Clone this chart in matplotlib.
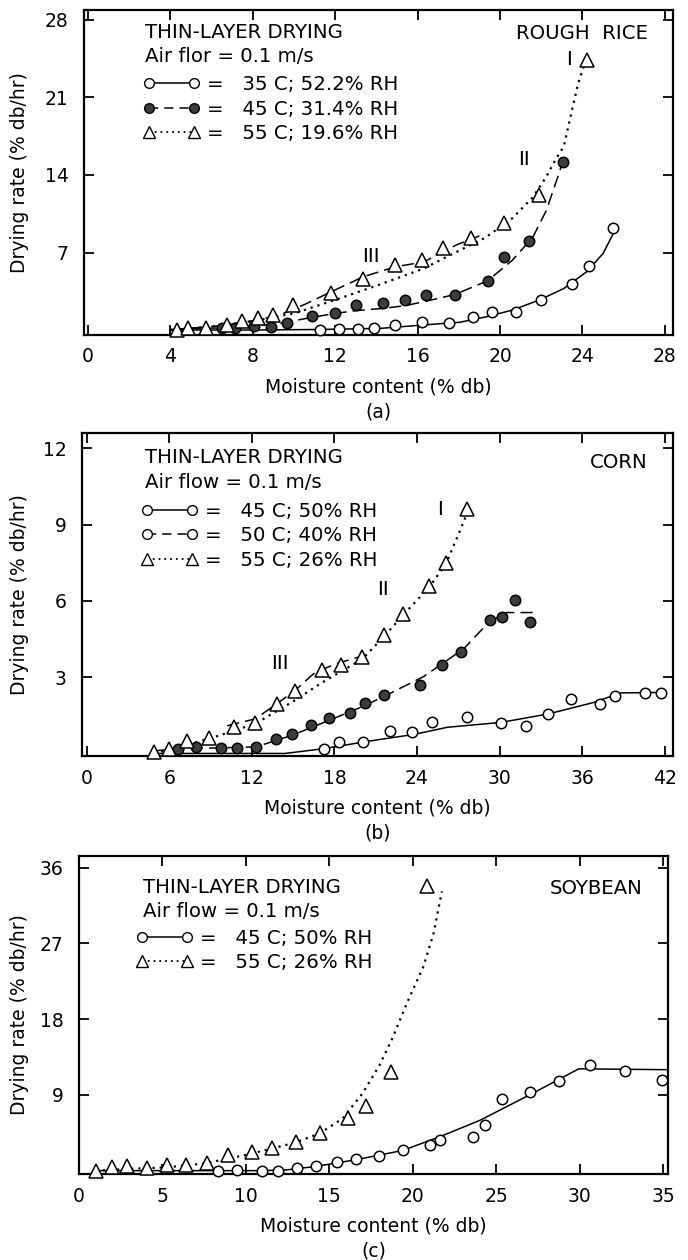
import matplotlib.pyplot as plt
from matplotlib.lines import Line2D

# ---- (a) rough rice: measured points ----
a_x35 = [11.25, 12.2, 13.1, 13.9, 14.9, 16.2, 17.5, 18.7, 19.6, 20.8, 22.0, 23.5, 24.3, 25.5]
a_y35 = [0.0, 0.05, 0.1, 0.15, 0.45, 0.7, 0.65, 1.15, 1.6, 1.65, 2.7, 4.2, 5.8, 9.2]
a_x45 = [6.5, 7.15, 8.05, 8.9, 9.65, 10.85, 12.0, 13.0, 14.3, 15.4, 16.4, 17.8, 19.4, 20.2, 21.4, 23.05]
a_y45 = [0.15, 0.15, 0.35, 0.25, 0.65, 1.25, 1.55, 2.25, 2.4, 2.75, 3.15, 3.2, 4.45, 6.6, 8.0, 15.2]
a_x55 = [4.3, 4.85, 5.7, 6.75, 7.45, 8.25, 9.0, 9.95, 11.8, 13.35, 14.9, 16.2, 17.25, 18.6, 20.2, 21.9, 24.2]
a_y55 = [0.0, 0.15, 0.15, 0.45, 0.85, 1.05, 1.35, 2.25, 3.3, 4.65, 5.85, 6.3, 7.45, 8.35, 9.65, 12.2, 24.4]
# fitted curves
a_cx35 = [4.0, 8.0, 11.3, 14.2, 16.6, 18.05, 19.35, 20.6, 21.9, 23.1, 24.2, 25.0, 25.5]
a_cy35 = [0.0, 0.0, 0.05, 0.15, 0.5, 0.7, 1.2, 1.8, 2.7, 3.75, 5.25, 6.9, 8.7]
a_cx45 = [4.0, 6.5, 8.0, 9.3, 10.9, 12.0, 13.0, 14.3, 15.4, 16.4, 17.8, 19.4, 20.6, 21.6, 22.25, 22.7, 23.05]
a_cy45 = [0.05, 0.2, 0.35, 0.6, 1.15, 1.5, 1.75, 1.95, 2.2, 2.6, 3.2, 4.45, 6.3, 8.4, 10.8, 13.25, 15.2]
a_cx55 = [4.0, 6.0, 8.0, 10.0, 12.2, 14.0, 16.3, 17.4, 19.3, 20.6, 21.6, 22.25, 22.7, 23.1, 23.5, 23.8, 24.1]
a_cy55 = [0.0, 0.3, 0.8, 1.5, 2.85, 4.0, 5.55, 6.6, 8.35, 10.1, 12.0, 13.85, 15.4, 16.6, 19.9, 22.3, 24.0]
a_cx3 = [4.2, 6.5, 8.2, 9.3, 10.5, 11.8, 13.35, 14.9, 16.3, 17.9, 19.0]
a_cy3 = [0.05, 0.4, 0.9, 1.35, 2.3, 3.45, 4.8, 5.7, 6.15, 7.7, 8.5]

# ---- (b) corn ----
b_x45 = [17.25, 18.3, 20.1, 22.0, 23.6, 25.1, 27.6, 30.1, 31.9, 33.5, 35.2, 37.3, 38.4, 40.6, 41.7]
b_y45 = [0.19, 0.45, 0.45, 0.87, 0.84, 1.22, 1.44, 1.18, 1.09, 1.55, 2.15, 1.93, 2.25, 2.38, 2.38]
b_x50 = [6.6, 7.9, 9.75, 10.9, 12.3, 13.75, 14.9, 16.3, 17.6, 19.1, 20.2, 21.6, 24.2, 25.8, 27.2, 29.3, 30.2, 31.15, 32.2]
b_y50 = [0.19, 0.26, 0.22, 0.22, 0.26, 0.58, 0.78, 1.13, 1.39, 1.6, 1.98, 2.3, 2.68, 3.48, 3.99, 5.26, 5.35, 6.03, 5.15]
b_x55 = [4.9, 6.0, 7.25, 8.9, 10.7, 12.25, 13.8, 15.1, 17.1, 18.5, 20.0, 21.6, 23.0, 24.9, 26.1, 27.6]
b_y55 = [0.06, 0.19, 0.48, 0.61, 1.04, 1.21, 1.95, 2.46, 3.28, 3.48, 3.8, 4.67, 5.49, 6.59, 7.48, 9.6]
b_cx45 = [4.9, 10.0, 14.4, 17.25, 20.1, 21.3, 23.8, 26.2, 30.1, 33.5, 36.8, 38.8, 41.7]
b_cy45 = [0.0, 0.0, 0.0, 0.19, 0.45, 0.55, 0.75, 1.03, 1.22, 1.55, 2.0, 2.38, 2.4]
b_cx50 = [4.9, 6.6, 9.75, 12.3, 14.9, 17.6, 20.2, 22.1, 24.5, 27.4, 29.2, 30.5, 32.5]
b_cy50 = [0.1, 0.19, 0.22, 0.26, 0.71, 1.3, 1.88, 2.38, 3.03, 4.12, 5.15, 5.54, 5.54]
b_cx55 = [4.9, 8.9, 12.25, 15.1, 17.1, 20.0, 21.6, 23.0, 24.9, 26.1, 27.0, 27.6]
b_cy55 = [0.0, 0.58, 1.17, 2.08, 2.79, 3.7, 4.6, 5.45, 6.55, 7.46, 8.6, 9.4]
b_cx3 = [10.2, 12.25, 13.8, 15.1, 16.3, 16.7, 18.2, 20.0]
b_cy3 = [1.09, 1.36, 1.95, 2.46, 3.05, 3.22, 3.54, 3.83]

# ---- (c) soybean ----
c_x45 = [8.35, 9.45, 10.95, 11.95, 13.05, 14.2, 15.45, 16.6, 17.95, 19.4, 21.05, 21.65, 23.6, 24.35, 25.35, 27.05, 28.75, 30.65, 32.75, 34.95]
c_y45 = [0.0, 0.1, 0.0, 0.0, 0.3, 0.5, 1.05, 1.35, 1.75, 2.45, 3.05, 3.65, 4.05, 5.45, 8.5, 9.4, 10.7, 12.5, 11.9, 10.8]
c_x55 = [1.0, 1.95, 2.85, 4.1, 5.25, 6.4, 7.65, 8.95, 10.35, 11.55, 13.0, 14.45, 16.15, 17.2, 18.7, 20.85]
c_y55 = [0.0, 0.4, 0.6, 0.35, 0.7, 0.7, 0.95, 1.8, 2.2, 2.65, 3.4, 4.45, 6.2, 7.65, 11.75, 33.8]
c_cx45 = [1.0, 8.4, 11.0, 12.5, 14.2, 16.6, 19.4, 21.65, 24.05, 27.05, 29.95, 35.25]
c_cy45 = [0.0, 0.0, 0.0, 0.1, 0.5, 1.3, 2.4, 4.05, 6.0, 9.05, 12.1, 12.0]
c_cx55 = [1.0, 3.0, 5.3, 7.5, 10.2, 12.9, 14.4, 15.8, 17.0, 18.0, 18.8, 19.65, 20.65, 21.25, 21.75]
c_cy55 = [0.0, 0.2, 0.4, 0.85, 1.95, 3.3, 4.4, 6.2, 9.2, 12.5, 15.8, 19.9, 24.3, 28.2, 33.2]

FS = 14.2      # legend / note text
TFS = 13.5     # ticks and axis labels
GREY = '#3c3c3c'
DASH = (0, (6, 4))
LONGDASH = (0, (8, 4))
DOT = (0, (1, 2.2))

fig = plt.figure(figsize=(6.88, 12.6), dpi=100)


def px_box(l, t, r, b):
    # pixel box -> figure fraction
    return [l / 688, 1 - b / 1260, (r - l) / 688, (b - t) / 1260]


def setup(ax, left_px, width_px, xlim, ylim, xticks, yticks, letter):
    ax.set_xlim(xlim)
    ax.set_ylim(ylim)
    ax.set_xticks(xticks)
    ax.set_yticks(yticks)
    ax.tick_params(direction='in', top=True, right=True, length=7, width=1.3,
                   labelsize=TFS, pad=9)
    ax.tick_params(axis='y', pad=11)
    for s in ax.spines.values():
        s.set_linewidth(1.6)
    ax.set_xlabel('Moisture content (% db)', fontsize=TFS, labelpad=8)
    ax.set_ylabel('Drying rate (% db/hr)', fontsize=TFS)
    # right edge of the rotated label ~29 px from the left of the figure
    ax.yaxis.set_label_coords((29 - left_px) / width_px, 0.5)
    ax.annotate(letter, xy=(0.5, 0), xycoords='axes fraction', xytext=(0, -77),
                textcoords='offset pixels', ha='center', va='center', fontsize=TFS)


def pts(ax, x, y, kind):
    if kind == 'open':
        kw = dict(marker='o', mfc='white', ms=7.5)
    elif kind == 'filled':
        kw = dict(marker='o', mfc=GREY, ms=7.5)
    else:
        kw = dict(marker='^', mfc='white', ms=9.5)
    ax.plot(x, y, ls='none', mec='k', mew=1.1, zorder=4, clip_on=False, **kw)


def curve(ax, x, y, ls, lw=1.1):
    ax.plot(x, y, color='k', ls=ls, lw=lw, zorder=2)


def header(ax, lx, ty, line2, name, ny):
    ax.text(lx, ty, 'THIN-LAYER DRYING', transform=ax.transAxes, fontsize=FS, va='center')
    ax.text(lx, ty - 0.076, line2, transform=ax.transAxes, fontsize=FS, va='center')
    ax.text(0.957, ny, name, transform=ax.transAxes, fontsize=FS, va='center', ha='right')


def entries(ax, items, x0, y0):
    handles = []
    labels = []
    for kind, ls, lab in items:
        if kind == 'open':
            h = Line2D([], [], color='k', ls=ls, lw=1.1, marker='o', mfc='white', mec='k', ms=7)
        elif kind == 'filled':
            h = Line2D([], [], color='k', ls=ls, lw=1.1, marker='o', mfc=GREY, mec='k', ms=7)
        else:
            h = Line2D([], [], color='k', ls=ls, lw=1.3, marker='^', mfc='white', mec='k', ms=8.5)
        handles.append(h)
        labels.append(lab)
    ax.legend(handles, labels, numpoints=2, handlelength=2.9, handletextpad=0.35,
              labelspacing=0.28, fontsize=FS, frameon=False, loc='upper left',
              bbox_to_anchor=(x0, y0), borderaxespad=0, borderpad=0)


# ---------- (a) ----------
ax = fig.add_axes(px_box(84, 10, 673, 335))
setup(ax, 84, 589, (-0.2, 28.4), (-0.45, 28.9), range(0, 29, 4), [7, 14, 21, 28], '(a)')
curve(ax, a_cx35, a_cy35, '-')
curve(ax, a_cx45, a_cy45, LONGDASH)
curve(ax, a_cx55, a_cy55, DOT, lw=1.6)
curve(ax, a_cx3, a_cy3, LONGDASH)
pts(ax, a_x35, a_y35, 'open')
pts(ax, a_x45, a_y45, 'filled')
pts(ax, a_x55, a_y55, 'tri')
header(ax, 0.104, 0.932, 'Air flor = 0.1 m/s', 'ROUGH  RICE', 0.929)
entries(ax, [('open', '-', '=   35 C; 52.2% RH'),
             ('filled', DASH, '=   45 C; 31.4% RH'),
             ('tri', DOT, '=   55 C; 19.6% RH')], 0.1, 0.8)
ax.text(23.35, 24.4, 'I', fontsize=FS, ha='center', va='center')
ax.text(21.16, 15.4, 'II', fontsize=FS, ha='center', va='center')
ax.text(13.75, 6.6, 'III', fontsize=FS, ha='center', va='center')

# ---------- (b) ----------
ax = fig.add_axes(px_box(82, 433, 673, 756))
setup(ax, 82, 591, (-0.35, 42.6), (-0.1, 12.6), range(0, 43, 6), [3, 6, 9, 12], '(b)')
curve(ax, b_cx45, b_cy45, '-')
curve(ax, b_cx50, b_cy50, LONGDASH)
curve(ax, b_cx55, b_cy55, DOT, lw=1.6)
curve(ax, b_cx3, b_cy3, LONGDASH)
pts(ax, b_x45, b_y45, 'open')
pts(ax, b_x50, b_y50, 'filled')
pts(ax, b_x55, b_y55, 'tri')
header(ax, 0.107, 0.923, 'Air flow = 0.1 m/s', 'CORN', 0.91)
entries(ax, [('open', '-', '=   45 C; 50% RH'),
             ('open', DASH, '=   50 C; 40% RH'),
             ('tri', DOT, '=   55 C; 26% RH')], 0.1, 0.787)
ax.text(25.7, 9.6, 'I', fontsize=FS, ha='center', va='center')
ax.text(21.5, 6.43, 'II', fontsize=FS, ha='center', va='center')
ax.text(14.0, 3.53, 'III', fontsize=FS, ha='center', va='center')

# ---------- (c) ----------
ax = fig.add_axes(px_box(79, 856, 668, 1174))
setup(ax, 79, 589, (0, 35.3), (-0.4, 37.4), range(0, 36, 5), [9, 18, 27, 36], '(c)')
curve(ax, c_cx45, c_cy45, '-')
curve(ax, c_cx55, c_cy55, DOT, lw=1.6)
pts(ax, c_x45, c_y45, 'open')
pts(ax, c_x55, c_y55, 'tri')
header(ax, 0.109, 0.902, 'Air flow = 0.1 m/s', 'SOYBEAN', 0.899)
entries(ax, [('open', '-', '=   45 C; 50% RH'),
             ('tri', DOT, '=   55 C; 26% RH')], 0.097, 0.772)

fig.savefig('out.png', dpi=100)
